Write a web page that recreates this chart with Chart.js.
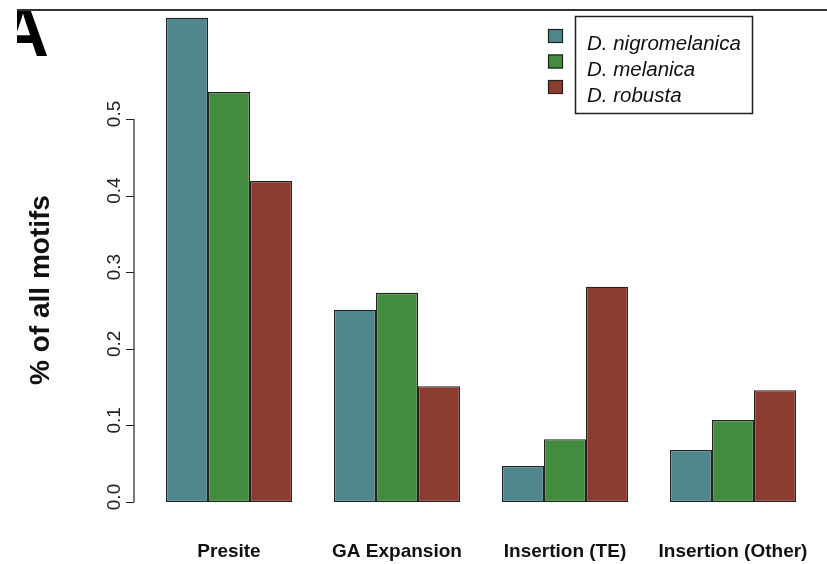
<!DOCTYPE html>
<html>
<head>
<meta charset="utf-8">
<script src="https://cdn.jsdelivr.net/npm/chart.js@4"></script>
<style>
  body { margin: 0; background: #fff; }
</style>
</head>
<body>
<canvas id="motifChart" width="827" height="564"></canvas>
<script>
// categories and values (fraction of all motifs)
const categories = ['Presite', 'GA Expansion', 'Insertion (TE)', 'Insertion (Other)'];
const nigromelanica = [0.632, 0.251, 0.047, 0.068];
const melanica = [0.535, 0.273, 0.082, 0.107];
const robusta = [0.419, 0.151, 0.281, 0.146];
const yTickValues = [0, 0.1, 0.2, 0.3, 0.4, 0.5];
const yTitle = '% of all motifs';
const panelLabel = 'A';

const edge = '#222222';

// R style axis, legend, panel letter
const extras = {
    id: 'extras',
    afterDraw(chart) {
        const ctx = chart.ctx;
        const y = chart.scales.y;
        const axisX = 134;
        ctx.save();

        // y axis line and tick marks
        ctx.strokeStyle = edge;
        ctx.lineWidth = 1.2;
        ctx.beginPath();
        ctx.moveTo(axisX, y.getPixelForValue(yTickValues[0]));
        ctx.lineTo(axisX, y.getPixelForValue(yTickValues[yTickValues.length - 1]));
        yTickValues.forEach(v => {
            const py = Math.round(y.getPixelForValue(v)) + 0.5;
            ctx.moveTo(axisX, py);
            ctx.lineTo(axisX - 8, py);
        });
        ctx.stroke();

        // y title
        ctx.fillStyle = '#111';
        ctx.font = 'bold 28px "Liberation Sans", Arial, sans-serif';
        ctx.textAlign = 'center';
        ctx.textBaseline = 'middle';
        ctx.translate(41, 290);
        ctx.rotate(-Math.PI / 2);
        ctx.fillText(yTitle, 0, 0);
        ctx.setTransform(1, 0, 0, 1, 0, 0);

        // legend: swatches outside a boxed list of names
        ctx.lineWidth = 1.5;
        ctx.strokeStyle = edge;
        ctx.strokeRect(575.5, 16.5, 177, 97);
        ctx.font = 'italic 20.5px "Liberation Sans", Arial, sans-serif';
        ctx.textAlign = 'left';
        ctx.textBaseline = 'alphabetic';
        chart.data.datasets.forEach((ds, i) => {
            const top = 29 + i * 25.5;
            ctx.fillStyle = ds.backgroundColor;
            ctx.fillRect(548, top, 15, 14);
            ctx.lineWidth = 1.2;
            ctx.strokeRect(548.5, top + 0.5, 14, 13);
            ctx.fillStyle = '#111';
            ctx.fillText(ds.label, 587, 50 + i * 26);
        });

        // panel letter, cropped like the source figure
        ctx.save();
        ctx.beginPath();
        ctx.rect(17, 11, 100, 60);
        ctx.clip();
        ctx.fillStyle = '#000';
        ctx.font = 'bold 72px "Liberation Sans", Arial, sans-serif';
        ctx.textAlign = 'right';
        ctx.fillText(panelLabel, 49, 56);
        ctx.restore();

        // top rule
        ctx.strokeStyle = '#333';
        ctx.lineWidth = 2;
        ctx.beginPath();
        ctx.moveTo(17, 10);
        ctx.lineTo(827, 10);
        ctx.stroke();

        ctx.restore();
    }
};

const config = {
    type: 'bar',
    data: {
        labels: categories,
        datasets: [
            { label: 'D. nigromelanica', data: nigromelanica, backgroundColor: '#4f878c' },
            { label: 'D. melanica', data: melanica, backgroundColor: '#428b3f' },
            { label: 'D. robusta', data: robusta, backgroundColor: '#8c3b2f' }
        ]
    },
    options: {
        responsive: false,
        animation: false,
        layout: { padding: { top: 4, right: 10, left: 0, bottom: 0 } },
        datasets: {
            bar: {
                borderColor: edge,
                borderWidth: 1.3,
                borderSkipped: false,
                categoryPercentage: 0.75,
                barPercentage: 1.0
            }
        },
        plugins: {
            legend: { display: false },
            tooltip: { enabled: false }
        },
        scales: {
            x: {
                grid: { display: false, drawTicks: false },
                border: { display: false },
                ticks: {
                    color: '#111',
                    padding: 38,
                    autoSkip: false,
                    maxRotation: 0,
                    font: { family: '"Liberation Sans", Arial', size: 19, weight: 'bold' }
                },
                afterFit: s => {
                    s.height = 62;
                    s.paddingLeft = 0;
                    s.paddingRight = 0;
                }
            },
            y: {
                min: 0,
                max: 0.65,
                grid: { display: false, drawTicks: false },
                border: { display: false },
                afterBuildTicks: s => { s.ticks = yTickValues.map(v => ({ value: v })); },
                afterFit: s => {
                    s.width = 145;
                    s.paddingTop = 0;
                    s.paddingBottom = 0;
                },
                ticks: {
                    color: '#222',
                    minRotation: 90,
                    maxRotation: 90,
                    crossAlign: 'center',
                    padding: 17,
                    labelOffset: -5,
                    font: { family: '"Liberation Sans", Arial', size: 19 },
                    callback: v => Number(v).toFixed(1)
                }
            }
        }
    },
    plugins: [extras]
};

const chart = new Chart(document.getElementById('motifChart').getContext('2d'), config);
</script>
</body>
</html>
